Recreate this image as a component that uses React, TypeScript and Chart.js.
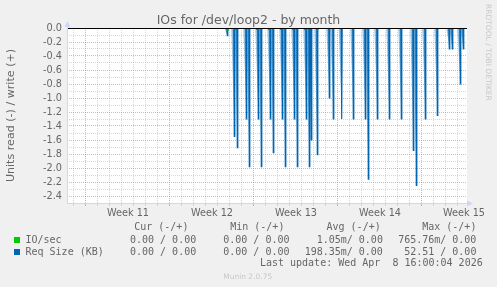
import React, { useEffect, useRef } from 'react';
import { Chart, registerables } from 'chart.js';

Chart.register(...registerables);

const W = 497;
const H = 287;

const chartTitle = 'IOs for /dev/loop2 - by month';
const yAxisTitle = 'Units read (-) / write (+)';
const weekLabels = ['Week 11', 'Week 12', 'Week 13', 'Week 14', 'Week 15'];
const weekStartDays = [0, 7, 14, 21, 28];
const xMinDay = -1.583;
const xMaxDay = 31.75;
const yMinValue = -2.5;
const yMaxValue = 0;

// Req Size (KB) read (negative) spikes: day offset from start of Week 11, value
const reqSizeDays = [11.775, 12.358, 12.608, 13.358, 13.608, 14.358, 14.608, 15.358, 15.608, 16.358, 16.608, 17.358, 17.608, 18.358, 18.608, 18.775, 19.275, 20.275, 20.608, 21.308, 22.275, 23.275, 23.525, 24.275, 25.275, 26.275, 27.275, 27.525, 28.275, 29.275, 30.275, 30.525, 31.19, 31.44];
const reqSizeRead = [-0.11, -1.55, -1.71, -1.3, -1.98, -1.3, -1.98, -1.3, -1.78, -1.3, -1.98, -1.3, -1.98, -1.3, -1.98, -1.6, -1.81, -1.0, -1.3, -1.3, -1.3, -1.3, -2.16, -1.3, -1.3, -1.3, -1.75, -2.25, -1.3, -1.25, -0.3, -0.3, -0.8, -0.3];

// IO/sec read (negative) blips
const ioDays = [11.83, 12.42, 14.25, 15.25, 16.25, 17.25, 18.25, 19.33, 27.25];
const ioRead = [-0.04, -0.03, -0.03, -0.03, -0.03, -0.03, -0.03, -0.03, -0.03];

const legendHeaders = ['Cur (-/+)', 'Min (-/+)', 'Avg (-/+)', 'Max (-/+)'];
const ioStats = ['0.00 / 0.00', '0.00 / 0.00', '1.05m/ 0.00', '765.76m/ 0.00'];
const reqStats = ['0.00 / 0.00', '0.00 / 0.00', '198.35m/ 0.00', '52.51 / 0.00'];
const lastUpdate = 'Last update: Wed Apr  8 16:00:04 2026';
const muninVersion = 'Munin 2.0.75';
const rrdWatermark = 'RRDTOOL / TOBI OETIKER';

const BLUE = '#0066b3';
const GREEN = '#00cc00';
const FONT_COLOR = '#666666';
const AXIS_COLOR = '#cfd6f8';
const GRID_GRAY = 'rgba(160,160,160,0.42)';
const GRID_RED = 'rgba(235,100,100,0.55)';

const PX_PER_DAY = 12;

function spikeLine(days: number[], vals: number[], half: number) {
  const pts: { x: number; y: number }[] = [{ x: xMinDay, y: 0 }];
  days.forEach((d, i) => {
    pts.push({ x: d - half, y: 0 }, { x: d, y: vals[i] }, { x: d + half, y: 0 });
  });
  pts.push({ x: xMaxDay, y: 0 });
  return pts;
}

function wedges(days: number[], vals: number[], lead: number) {
  const pts: { x: number; y: number }[] = [{ x: xMinDay, y: 0 }];
  days.forEach((d, i) => {
    pts.push({ x: d - lead, y: 0 }, { x: d, y: vals[i] * 0.92 }, { x: d + 0.01, y: 0 });
  });
  pts.push({ x: xMaxDay, y: 0 });
  return pts;
}

const isMid = (v: number) => weekStartDays.findIndex((w) => Math.abs(v - (w + 3.5)) < 1e-6);

const decoPlugin = {
  id: 'muninDeco',
  beforeDraw(chart: any) {
    const { ctx, chartArea: a } = chart;
    ctx.save();
    ctx.fillStyle = '#ffffff';
    ctx.fillRect(a.left, a.top, a.right - a.left, a.bottom - a.top);
    ctx.restore();
  },
  afterDatasetsDraw(chart: any) {
    const { ctx, chartArea: a, scales } = chart;
    const y0 = Math.round(scales.y.getPixelForValue(0)) + 0.5;
    ctx.save();
    ctx.strokeStyle = '#000000';
    ctx.lineWidth = 1;
    ctx.beginPath();
    ctx.moveTo(a.left, y0);
    ctx.lineTo(a.right, y0);
    ctx.stroke();
    ctx.restore();
  },
  afterDraw(chart: any) {
    const { ctx, chartArea: a } = chart;
    const lx = Math.round(a.left) + 0.5;
    const by = Math.round(a.bottom) + 0.5;
    ctx.save();
    ctx.strokeStyle = AXIS_COLOR;
    ctx.fillStyle = AXIS_COLOR;
    ctx.lineWidth = 1;
    ctx.beginPath();
    ctx.moveTo(lx, by);
    ctx.lineTo(lx, a.top - 2);
    ctx.moveTo(lx, by);
    ctx.lineTo(a.right + 1, by);
    ctx.stroke();
    ctx.beginPath();
    ctx.moveTo(lx, a.top - 7);
    ctx.lineTo(lx - 3, a.top - 1);
    ctx.lineTo(lx + 3, a.top - 1);
    ctx.closePath();
    ctx.fill();
    ctx.beginPath();
    ctx.moveTo(a.right + 6, by);
    ctx.lineTo(a.right, by - 3);
    ctx.lineTo(a.right, by + 3);
    ctx.closePath();
    ctx.fill();
    ctx.restore();
  },
};

export default function App() {
  const ref = useRef<HTMLCanvasElement>(null);

  useEffect(() => {
    document.body.style.margin = '0';
    Chart.defaults.font.family = "'DejaVu Sans'";
    const half = 0.5 / PX_PER_DAY;
    const lead = 3 / PX_PER_DAY;
    const chart = new Chart(ref.current as HTMLCanvasElement, {
      type: 'line',
      data: {
        datasets: [
          {
            label: 'Req Size shade',
            data: wedges(reqSizeDays, reqSizeRead, lead),
            borderWidth: 0,
            borderColor: 'rgba(0,0,0,0)',
            backgroundColor: 'rgba(0,102,179,0.4)',
            fill: 'origin',
            pointRadius: 0,
          },
          {
            label: 'IO/sec',
            data: spikeLine(ioDays, ioRead, half * 2),
            borderWidth: 1,
            borderColor: GREEN,
            fill: false,
            pointRadius: 0,
          },
          {
            label: 'Req Size (KB)',
            data: spikeLine(reqSizeDays, reqSizeRead, half),
            borderWidth: 1.2,
            borderColor: BLUE,
            fill: false,
            pointRadius: 0,
          },
        ],
      },
      options: {
        animation: false,
        responsive: false,
        devicePixelRatio: 1,
        parsing: false as any,
        layout: { padding: { left: 0, right: 30, top: 28, bottom: 64 } },
        plugins: { legend: { display: false }, tooltip: { enabled: false } },
        elements: { line: { tension: 0 }, point: { radius: 0 } },
        scales: {
          x: {
            type: 'linear',
            min: xMinDay,
            max: xMaxDay,
            afterBuildTicks: (scale: any) => {
              const vals: number[] = [];
              for (let d = Math.ceil(xMinDay); d <= Math.floor(xMaxDay); d++) vals.push(d);
              weekStartDays.forEach((w) => vals.push(w + 3.5));
              vals.sort((p, q) => p - q);
              scale.ticks = vals.map((v) => ({ value: v }));
            },
            afterFit: (scale: any) => {
              scale.height = 20;
            },
            ticks: {
              autoSkip: false,
              maxRotation: 0,
              minRotation: 0,
              padding: 2,
              color: FONT_COLOR,
              font: { size: 9.7, family: "'DejaVu Sans'" },
              callback: (v: any) => {
                const k = isMid(Number(v));
                return k >= 0 ? weekLabels[k] : '';
              },
            },
            grid: {
              drawOnChartArea: true,
              drawTicks: true,
              tickLength: 3,
              lineWidth: 1,
              color: (c: any) => {
                const v = c.tick ? c.tick.value : NaN;
                if (isMid(v) >= 0) return 'rgba(0,0,0,0)';
                if (weekStartDays.some((w) => Math.abs(w - v) < 1e-6)) return GRID_RED;
                return GRID_GRAY;
              },
            },
            border: { display: false, dash: [1, 1] },
          },
          y: {
            type: 'linear',
            min: yMinValue,
            max: yMaxValue,
            afterBuildTicks: (scale: any) => {
              const vals: number[] = [];
              for (let i = 0; i <= 25; i++) vals.push(-i / 10);
              scale.ticks = vals.reverse().map((v) => ({ value: v }));
            },
            afterFit: (scale: any) => {
              scale.width = 67;
            },
            title: {
              display: true,
              text: yAxisTitle,
              color: FONT_COLOR,
              font: { size: 11.1, family: "'DejaVu Sans'", lineHeight: 1.2 },
              padding: { top: 4.3, bottom: 0 },
            },
            ticks: {
              autoSkip: false,
              padding: 5,
              color: FONT_COLOR,
              font: { size: 9.7, family: "'DejaVu Sans'" },
              callback: (v: any) => {
                const n = Math.round(Number(v) * 10);
                return n % 2 === 0 ? (n / 10).toFixed(1) : '';
              },
            },
            grid: {
              drawTicks: false,
              lineWidth: 1,
              color: (c: any) => {
                const v = c.tick ? c.tick.value : NaN;
                const n = Math.round(v * 10);
                return n % 2 === 0 ? GRID_RED : GRID_GRAY;
              },
            },
            border: { display: false, dash: [1, 1] },
          },
        },
      },
      plugins: [decoPlugin],
    } as any);
    return () => chart.destroy();
  }, []);

  const mono = "'DejaVu Sans Mono', monospace";
  const rowTops = [221.3, 234, 245.7, 257.3];
  const headerRights = [188.4, 284.4, 380.7, 476.4];
  const valueRights = [196.2, 289.5, 382.9, 476.4];
  const txt = (s: string, right: number, top: number, key: string) => (
    <div
      key={key}
      style={{
        position: 'absolute',
        right: W - right,
        top,
        whiteSpace: 'pre',
        fontFamily: mono,
        fontSize: 10,
        lineHeight: '12px',
        color: FONT_COLOR,
      }}
    >
      {s}
    </div>
  );

  return (
    <div
      style={{
        position: 'fixed',
        left: 0,
        top: 0,
        width: W,
        height: H,
        background: '#f0f0f0',
        overflow: 'hidden',
        fontFamily: "'DejaVu Sans', sans-serif",
      }}
    >
      <canvas ref={ref} width={W} height={H} style={{ position: 'absolute', left: 0, top: 0, width: W, height: H }} />
      <div
        style={{
          position: 'absolute',
          left: 0,
          top: 12,
          width: W,
          textAlign: 'center',
          fontSize: 12.5,
          lineHeight: '15px',
          color: FONT_COLOR,
          whiteSpace: 'pre',
        }}
      >
        {chartTitle}
      </div>
      <div
        style={{
          position: 'absolute',
          left: 484,
          top: 4,
          writingMode: 'vertical-rl',
          fontSize: 7.5,
          lineHeight: '9px',
          color: '#c8c8c8',
          whiteSpace: 'pre',
        }}
      >
        {rrdWatermark}
      </div>
      {legendHeaders.map((h, i) => txt(h, headerRights[i], rowTops[0], 'h' + i))}
      <div style={{ position: 'absolute', left: 14, top: 237, width: 6, height: 6, background: GREEN }} />
      <div
        style={{
          position: 'absolute',
          left: 25.5,
          top: rowTops[1],
          whiteSpace: 'pre',
          fontFamily: mono,
          fontSize: 10,
          lineHeight: '12px',
          color: FONT_COLOR,
        }}
      >
        IO/sec
      </div>
      {ioStats.map((s, i) => txt(s, valueRights[i], rowTops[1], 'io' + i))}
      <div style={{ position: 'absolute', left: 14, top: 249, width: 6, height: 6, background: BLUE }} />
      <div
        style={{
          position: 'absolute',
          left: 25.5,
          top: rowTops[2],
          whiteSpace: 'pre',
          fontFamily: mono,
          fontSize: 10,
          lineHeight: '12px',
          color: FONT_COLOR,
        }}
      >
        Req Size (KB)
      </div>
      {reqStats.map((s, i) => txt(s, valueRights[i], rowTops[2], 'rq' + i))}
      {txt(lastUpdate, 482.7, rowTops[3], 'lu')}
      <div
        style={{
          position: 'absolute',
          left: 0,
          top: 271.7,
          width: 495.4,
          textAlign: 'center',
          fontSize: 7.5,
          lineHeight: '10px',
          color: '#c8c8c8',
          whiteSpace: 'pre',
        }}
      >
        {muninVersion}
      </div>
    </div>
  );
}
